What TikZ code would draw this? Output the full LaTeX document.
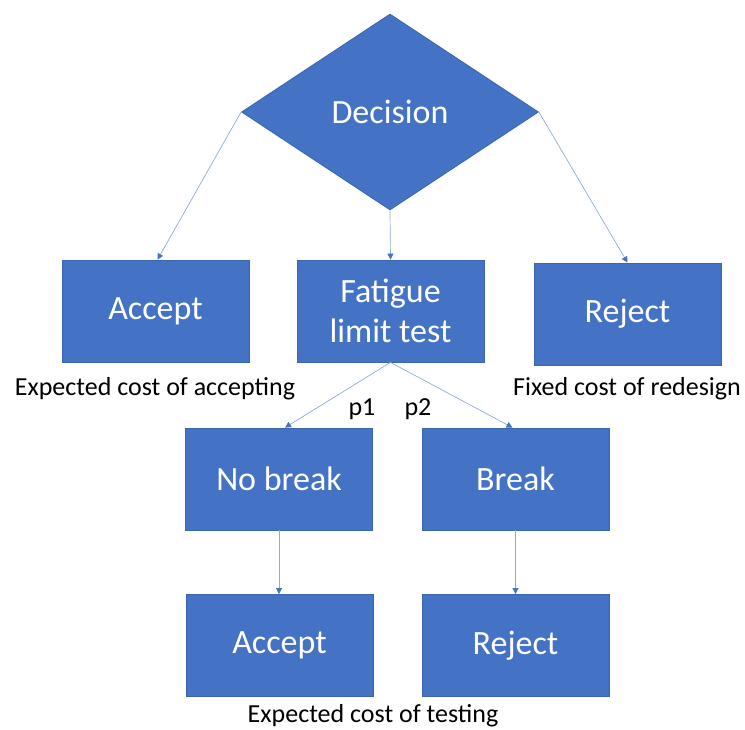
\documentclass[tikz,border=0pt]{standalone}
\usepackage{fontspec}
\setmainfont{Carlito}
\usetikzlibrary{shapes.geometric,arrows.meta}
\definecolor{boxblue}{HTML}{4472C4}
\definecolor{edgeblue}{HTML}{3A65B0}
\definecolor{lineblue}{HTML}{8FAADC}
\begin{document}
\begin{tikzpicture}[x=1pt,y=-1pt,
  box/.style={rectangle,fill=boxblue,draw=edgeblue,line width=0.8pt,minimum width=187pt,minimum height=102pt,text=white,font=\fontsize{34}{40}\selectfont,align=center,inner sep=0pt},
  dia/.style={diamond,fill=boxblue,draw=edgeblue,line width=0.8pt,minimum width=297pt,minimum height=196pt,aspect=1.5,text=white,font=\fontsize{34}{40}\selectfont,inner sep=0pt},
  conn/.style={draw=lineblue,line width=0.7pt,-{Triangle[width=6pt,length=6pt,fill=boxblue,color=boxblue]}},
  lbl/.style={font=\fontsize{26}{30}\selectfont,text=black,inner sep=0pt}]
\useasboundingbox (0,0) rectangle (745,730);
\node[dia] (dec) at (390,112) {Decision};
\node[box] (acc1) at (155.5,311) {Accept};
\node[box] (fat) at (390.5,311) {Fatigue\\limit test};
\node[box] (rej1) at (627.5,314) {Reject};
\node[box] (nb) at (279,479) {No break};
\node[box] (br) at (515.5,479) {Break};
\node[box] (acc2) at (279.5,645.5) {Accept};
\node[box] (rej2) at (515.5,645.5) {Reject};
\node[lbl] (l1) at (155,389) {Expected cost of accepting};
\node[lbl] (l2) at (627,389) {Fixed cost of redesign};
\node[lbl] (l3) at (373,716) {Expected cost of testing};
\node[lbl] (p1) at (362,409) {p1};
\node[lbl] (p2) at (418,409) {p2};
\draw[conn] (dec.west) -- ([xshift=2pt]acc1.north);
\draw[conn] (dec.south) -- (fat.north);
\draw[conn] (dec.east) -- (rej1.north);
\draw[conn] (fat.south) -- ([xshift=6pt]nb.north);
\draw[conn] (fat.south) -- ([xshift=-3pt]br.north);
\draw[conn] (nb.south) -- (acc2.north -| nb.south);
\draw[conn] (br.south) -- (rej2.north);
\end{tikzpicture}
\end{document}
